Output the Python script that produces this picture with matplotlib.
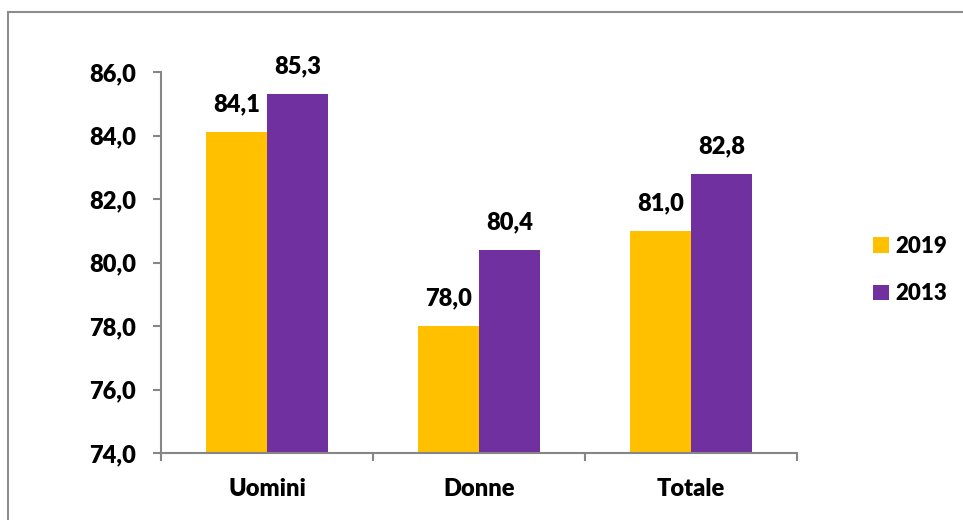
import numpy as np
import matplotlib.pyplot as plt
from matplotlib.patches import Rectangle
from matplotlib.ticker import FixedLocator

categories = ['Uomini', 'Donne', 'Totale']
series = ['2019', '2013']
values_2019 = [84.1, 78.0, 81.0]
values_2013 = [85.3, 80.4, 82.8]
colors = ['#FFC000', '#7030A0']

plt.rcParams['font.family'] = ['Lato', 'DejaVu Sans']
plt.rcParams['font.weight'] = 'heavy'
fs = 17

fig = plt.figure(figsize=(9.63, 5.2), dpi=100)
ax = fig.add_axes([161/963, 1-453/520, (797-161)/963, (453-72)/520])

# outer frame, open to the right and bottom
fig.patches.append(Rectangle((8/963, -0.1), 1.2, 1-12/520+0.1,
                             transform=fig.transFigure, fill=False,
                             edgecolor='#8c8c8c', lw=1.5))

x = np.arange(len(categories))
w = 0.29
for i, (vals, lab) in enumerate(zip([values_2019, values_2013], series)):
    bars = ax.bar(x + (i - 0.5) * w, np.array(vals) - 74, w, bottom=74,
                  color=colors[i], label=lab)
    for b, v in zip(bars, vals):
        ax.annotate(f'{v:.1f}'.replace('.', ','),
                    (b.get_x() + b.get_width() / 2, v),
                    xytext=(0, 12), textcoords='offset points',
                    ha='center', va='bottom', fontsize=fs, fontweight='heavy')

ax.set_xlim(-0.5, 2.5)
ax.set_ylim(74, 86)
ax.set_yticks(np.arange(74, 87, 2))
ax.set_yticklabels([f'{t:.1f}'.replace('.', ',') for t in np.arange(74, 87, 2)],
                   fontsize=fs, fontweight='heavy')
ax.set_xticks(x)
ax.set_xticklabels(categories, fontsize=fs, fontweight='heavy')
ax.xaxis.set_minor_locator(FixedLocator([-0.5, 0.5, 1.5, 2.5]))
ax.tick_params(axis='x', which='major', length=0, pad=18)
ax.tick_params(axis='x', which='minor', length=6, width=1.5, color='#868686')
ax.tick_params(axis='y', length=6, width=1.5, color='#868686', pad=12)

for s in ['top', 'right']:
    ax.spines[s].set_visible(False)
for s in ['left', 'bottom']:
    ax.spines[s].set_color('#868686')
    ax.spines[s].set_linewidth(1.5)

fig.legend(loc='center left', bbox_to_anchor=(853/963, 1-270/520),
           frameon=False, fontsize=16, handlelength=0.7, handleheight=0.7,
           handletextpad=0.3, labelspacing=1.2)

plt.savefig('out.png', dpi=100)
plt.close(fig)
